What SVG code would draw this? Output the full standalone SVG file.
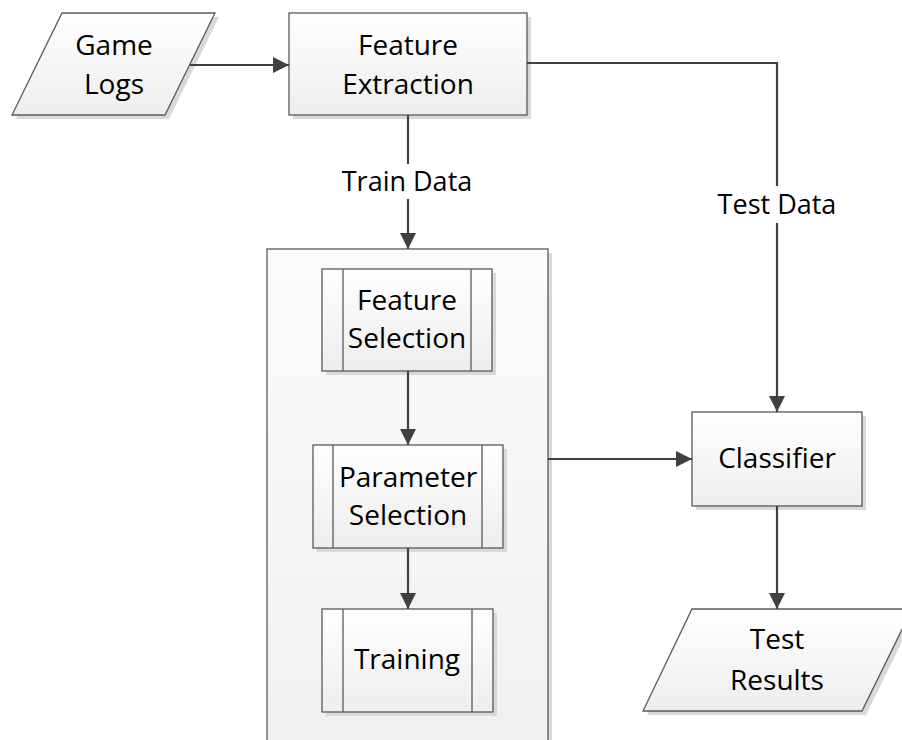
<svg xmlns="http://www.w3.org/2000/svg" width="902" height="740" viewBox="0 0 902 740">
  <defs>
    <linearGradient id="boxFill" x1="0" y1="0" x2="0" y2="1">
      <stop offset="0" stop-color="#ffffff"/>
      <stop offset="1" stop-color="#ededed"/>
    </linearGradient>
    <linearGradient id="groupFill" gradientUnits="userSpaceOnUse" x1="0" y1="249" x2="0" y2="740">
      <stop offset="0" stop-color="#fbfbfb"/>
      <stop offset="1" stop-color="#f0f0f0"/>
    </linearGradient>
    <marker id="arrow" markerUnits="userSpaceOnUse" markerWidth="17" markerHeight="16" refX="16" refY="8" orient="auto">
      <path d="M0,0 L16,8 L0,16 z" fill="#404040"/>
    </marker>
  </defs>
  <style>
    .shape { fill: url(#boxFill); stroke: #595959; stroke-width: 1.3; }
    .shadow { fill: #d9d9d9; }
    .bar { stroke: #595959; stroke-width: 1.3; }
    .lbl { font-family: "Open Sans", "Noto Sans", "Liberation Sans", sans-serif; font-size: 28px; fill: #000; text-anchor: middle; }
    .elbl { font-size: 27px; }
    .edge { fill: none; stroke: #404040; stroke-width: 2.2; }
    .tag { fill: #ffffff; }
  </style>

  <rect width="902" height="740" fill="#ffffff"/>

  <!-- container around the training steps -->
  <g id="training-group">
    <rect class="shadow" x="271" y="253" width="281" height="500"/>
    <rect x="267" y="249" width="281" height="500" fill="url(#groupFill)" stroke="#595959" stroke-width="1.3"/>
  </g>

  <g id="game-logs">
    <polygon class="shadow" points="66,17 219,17 169,119 16,119"/>
    <polygon class="shape" points="62,13 215,13 165,115 12,115"/>
    <text class="lbl" x="114" y="55">Game</text>
    <text class="lbl" x="114" y="94">Logs</text>
  </g>

  <g id="feature-extraction">
    <rect class="shadow" x="293" y="17" width="238" height="102"/>
    <rect class="shape" x="289" y="13" width="238" height="102"/>
    <text class="lbl" x="408" y="55">Feature</text>
    <text class="lbl" x="408" y="94">Extraction</text>
  </g>

  <g id="feature-selection">
    <rect class="shadow" x="326" y="273" width="170" height="102"/>
    <rect class="shape" x="322" y="269" width="170" height="102"/>
    <line class="bar" x1="343" y1="269" x2="343" y2="371"/>
    <line class="bar" x1="471" y1="269" x2="471" y2="371"/>
    <text class="lbl" x="407" y="310">Feature</text>
    <text class="lbl" x="407" y="348">Selection</text>
  </g>

  <g id="parameter-selection">
    <rect class="shadow" x="317" y="449" width="190" height="103"/>
    <rect class="shape" x="313" y="445" width="190" height="103"/>
    <line class="bar" x1="333" y1="445" x2="333" y2="548"/>
    <line class="bar" x1="482" y1="445" x2="482" y2="548"/>
    <text class="lbl" x="408" y="487">Parameter</text>
    <text class="lbl" x="408" y="525">Selection</text>
  </g>

  <g id="training">
    <rect class="shadow" x="326" y="613" width="171" height="103"/>
    <rect class="shape" x="322" y="609" width="171" height="103"/>
    <line class="bar" x1="343" y1="609" x2="343" y2="712"/>
    <line class="bar" x1="472" y1="609" x2="472" y2="712"/>
    <text class="lbl" x="407" y="669">Training</text>
  </g>

  <g id="classifier">
    <rect class="shadow" x="696" y="416" width="170" height="94"/>
    <rect class="shape" x="692" y="412" width="170" height="94"/>
    <text class="lbl" x="777" y="468">Classifier</text>
  </g>

  <g id="test-results">
    <polygon class="shadow" points="696,613 916,613 866,715 647,715"/>
    <polygon class="shape" points="692,609 912,609 862,711 643,711"/>
    <text class="lbl" x="777" y="649">Test</text>
    <text class="lbl" x="777" y="690">Results</text>
  </g>

  <g id="connectors">
    <line class="edge" x1="190" y1="65" x2="289" y2="65" marker-end="url(#arrow)"/>
    <line class="edge" x1="408" y1="115" x2="408" y2="249" marker-end="url(#arrow)"/>
    <polyline class="edge" points="527,63 777,63 777,412" marker-end="url(#arrow)"/>
    <line class="edge" x1="408" y1="371" x2="408" y2="445" marker-end="url(#arrow)"/>
    <line class="edge" x1="408" y1="548" x2="408" y2="609" marker-end="url(#arrow)"/>
    <line class="edge" x1="548" y1="459" x2="692" y2="459" marker-end="url(#arrow)"/>
    <line class="edge" x1="777" y1="506" x2="777" y2="609" marker-end="url(#arrow)"/>

    <rect class="tag" x="338" y="164" width="140" height="35"/>
    <text class="lbl elbl" x="407" y="191">Train Data</text>
    <rect class="tag" x="712" y="186" width="130" height="37"/>
    <text class="lbl elbl" x="777" y="214">Test Data</text>
  </g>
</svg>
